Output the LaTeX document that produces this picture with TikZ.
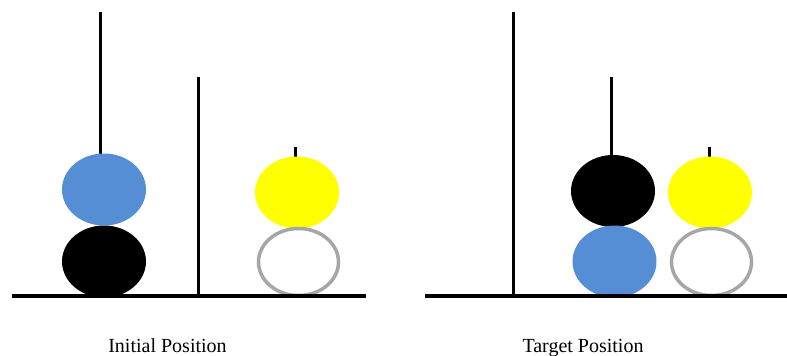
\documentclass[tikz,border=0pt]{standalone}
\usepackage{fontspec}
\setmainfont{Liberation Serif}
\usetikzlibrary{shapes.geometric}
\definecolor{discblue}{HTML}{558ED5}
\definecolor{discyellow}{HTML}{FFFF00}
\definecolor{ringgray}{HTML}{A6A6A6}
\tikzset{
  peg/.style={line width=3pt},
  base/.style={line width=3.5pt},
  disc/.style={ellipse, draw=none, inner sep=0pt, minimum width=84pt, minimum height=72pt},
  ring/.style={ellipse, draw=ringgray, fill=white, line width=3.5pt, inner sep=0pt, minimum width=80pt, minimum height=67pt},
  caption/.style={anchor=base, font=\fontsize{20pt}{24pt}\selectfont, inner sep=0pt}
}
\begin{document}
\begin{tikzpicture}[x=1pt,y=-1pt]
\useasboundingbox[fill=white] (0,0) rectangle (787,356);
% left panel
\coordinate (lb1) at (12,296);
\coordinate (lb2) at (366,296);
\coordinate (lp1t) at (100,12);
\coordinate (lp1b) at (100,200);
\coordinate (lp2t) at (198,77);
\coordinate (lp2b) at (198,296);
\coordinate (lp3t) at (295,147);
\coordinate (lp3b) at (295,170);
\draw[peg] (lp1t) -- (lp1b);
\draw[peg] (lp2t) -- (lp2b);
\draw[peg] (lp3t) -- (lp3b);
\node[disc, fill=discblue] (lblue) at (104,189.5) {};
\node[disc, fill=black] (lblack) at (104,261.5) {};
\node[disc, fill=discyellow] (lyellow) at (297,192.5) {};
\node[ring] (lring) at (298.5,262) {};
\draw[base] (lb1) -- (lb2);
\node[caption] (lcap) at (167.5,352) {Initial Position};
% right panel
\coordinate (rb1) at (425,296);
\coordinate (rb2) at (787,296);
\coordinate (rp1t) at (513,12);
\coordinate (rp1b) at (513,296);
\coordinate (rp2t) at (611,77);
\coordinate (rp2b) at (611,170);
\coordinate (rp3t) at (709,147);
\coordinate (rp3b) at (709,170);
\draw[peg] (rp1t) -- (rp1b);
\draw[peg] (rp2t) -- (rp2b);
\draw[peg] (rp3t) -- (rp3b);
\node[disc, fill=black] (rblack) at (613,191) {};
\node[disc, fill=discblue] (rblue) at (614.5,261.5) {};
\node[disc, fill=discyellow] (ryellow) at (710,192.5) {};
\node[ring] (rring) at (711.5,262) {};
\draw[base] (rb1) -- (rb2);
\node[caption] (rcap) at (583,352) {Target Position};
\end{tikzpicture}
\end{document}
